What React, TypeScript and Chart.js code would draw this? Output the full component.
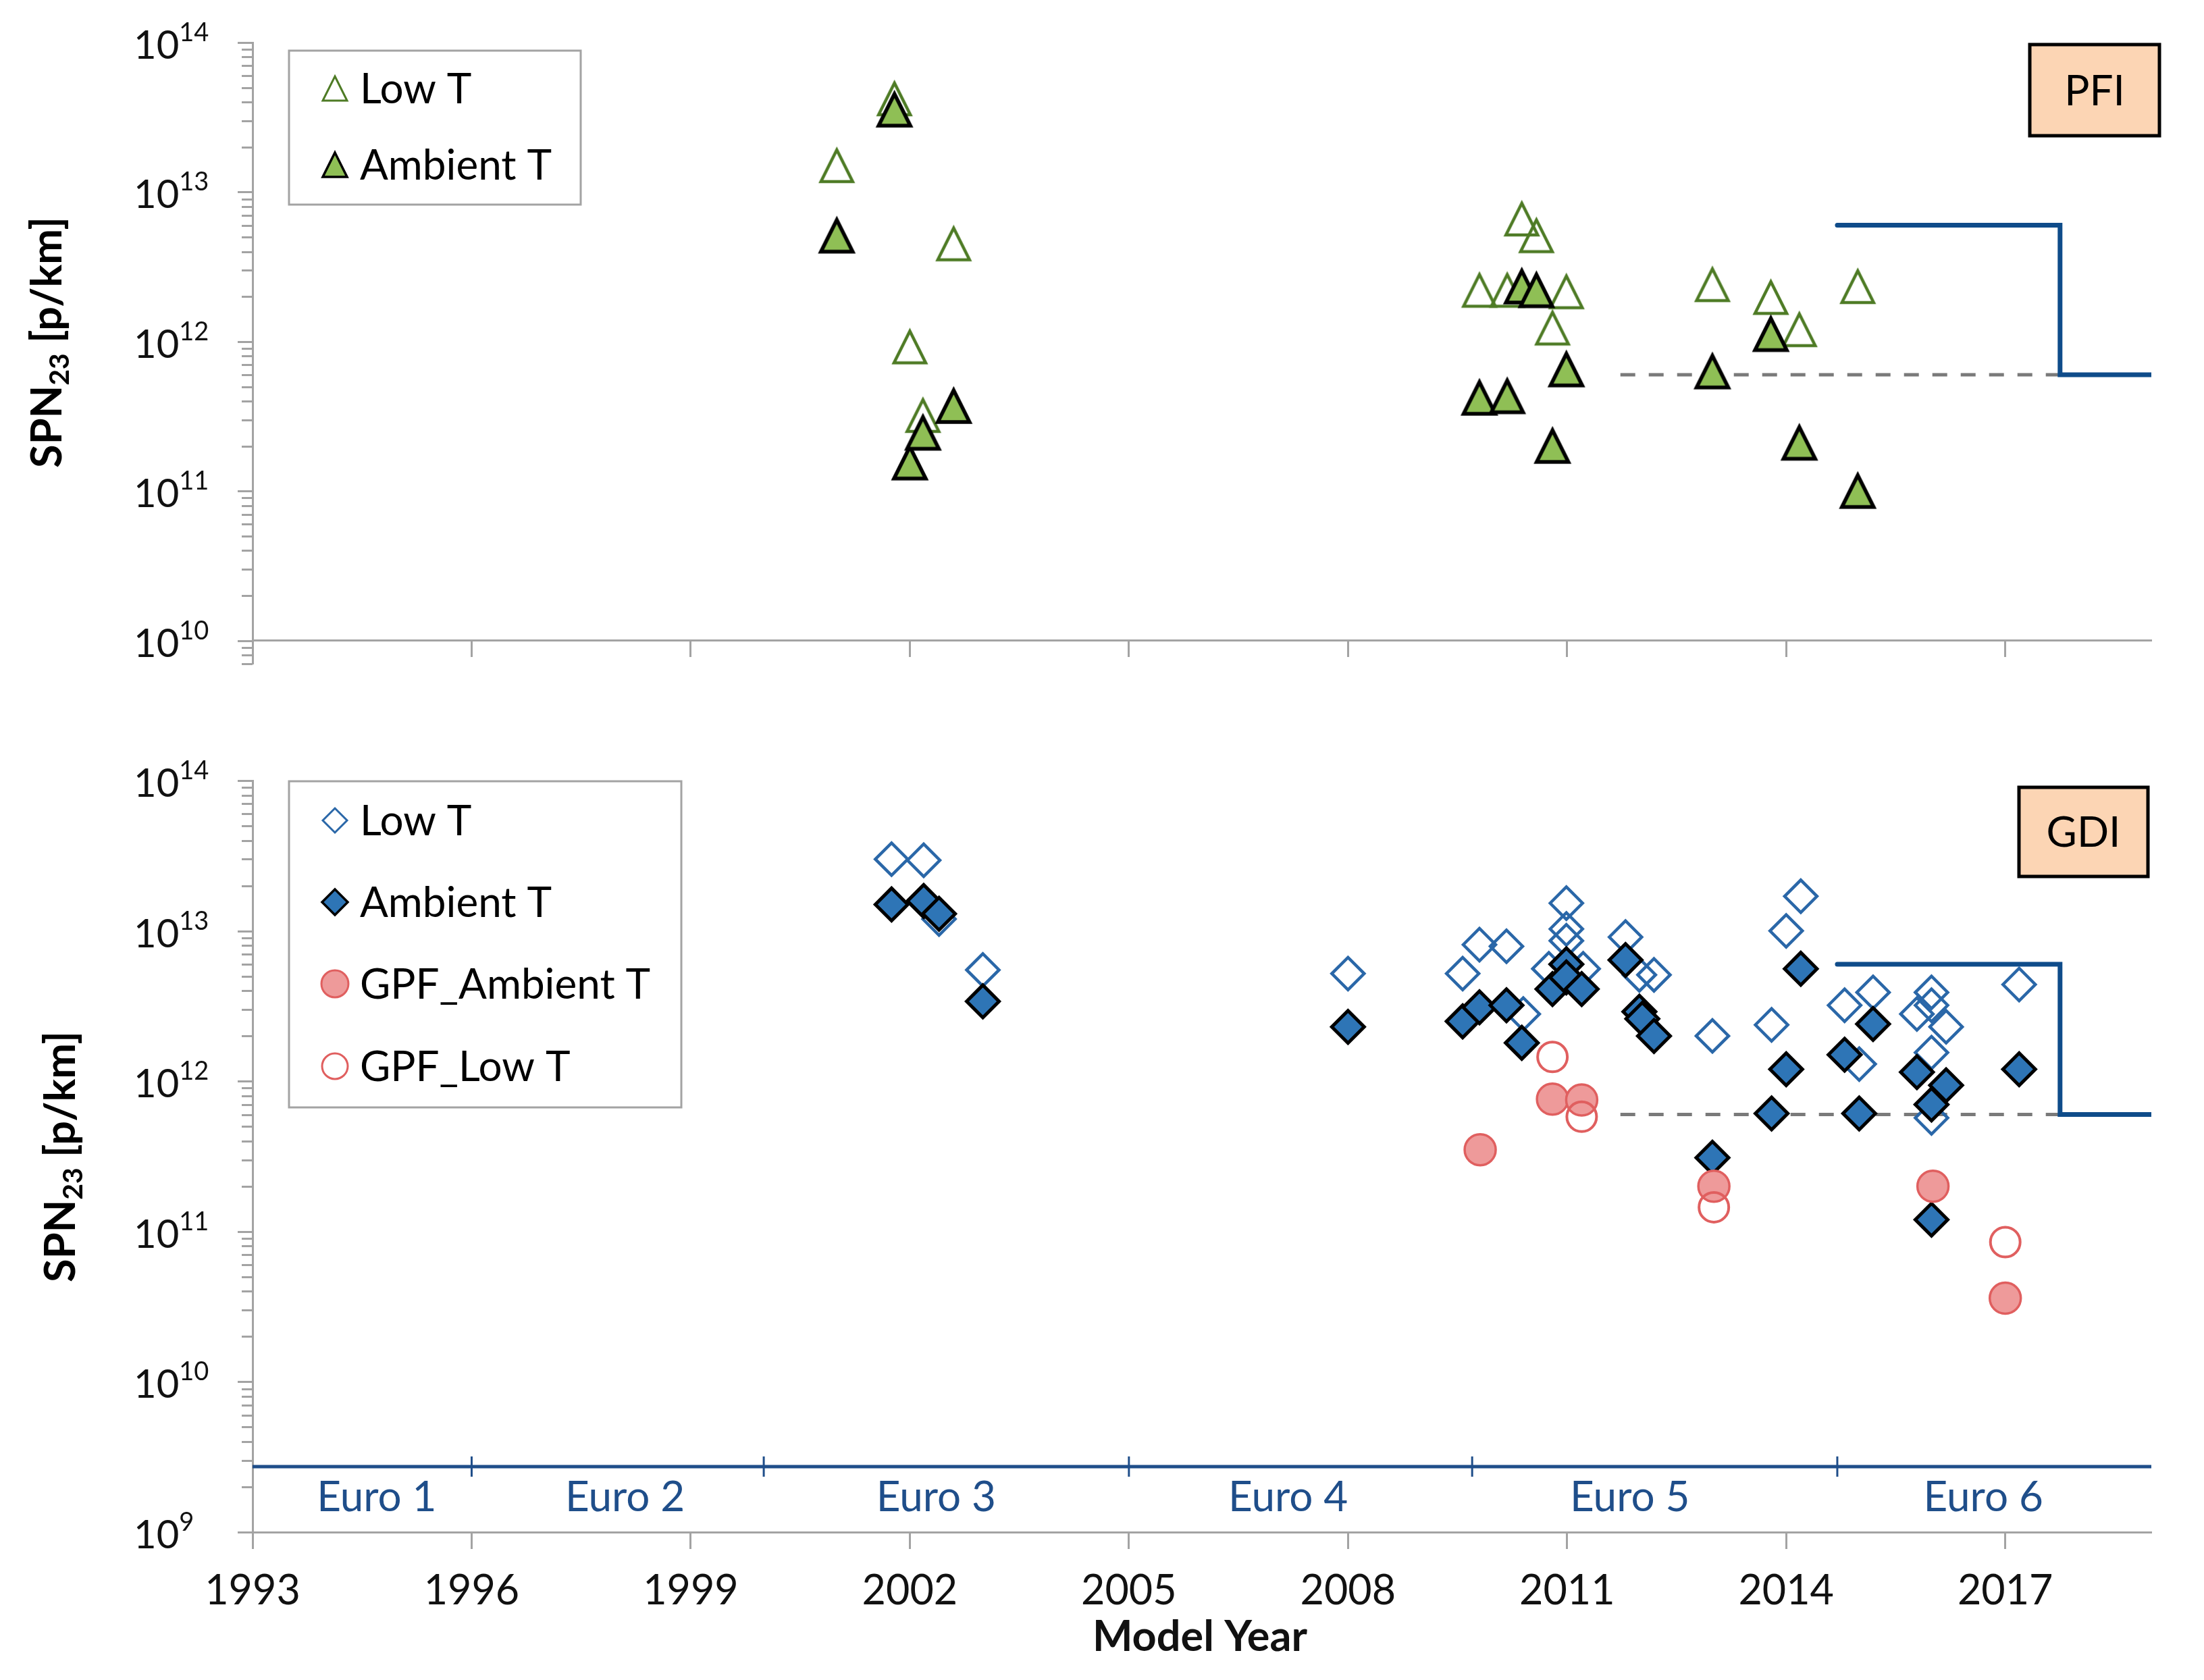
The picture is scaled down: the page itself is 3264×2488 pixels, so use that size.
import React, { useEffect, useRef } from 'react';
import { Chart, registerables } from 'chart.js';

Chart.register(...registerables);

type Pt = [number, number];

// ---------------- Data ----------------
const xMin = 1993;
const xMax = 2019;
const xTickYears = [1993, 1996, 1999, 2002, 2005, 2008, 2011, 2014, 2017];
const topYExponents = [10, 11, 12, 13, 14];
const bottomYExponents = [9, 10, 11, 12, 13, 14];
const topYMin = 7e9;
const bottomYMin = 1e9;
const yMax = 1e14;

// PFI panel
const pfiLowT: Pt[] = [
  [2001.0, 1.5e13], [2001.79, 4.2e13], [2002.0, 9.2e11], [2002.18, 3.2e11], [2002.6, 4.5e12],
  [2009.8, 2.2e12], [2010.18, 2.2e12], [2010.38, 6.6e12], [2010.58, 5.1e12], [2010.8, 1.23e12],
  [2010.99, 2.15e12], [2012.99, 2.4e12], [2013.79, 1.97e12], [2014.18, 1.2e12], [2014.98, 2.33e12],
];
const pfiAmbientT: Pt[] = [
  [2001.0, 5.1e12], [2001.79, 3.55e13], [2002.0, 1.55e11], [2002.18, 2.45e11], [2002.6, 3.7e11],
  [2009.8, 4.2e11], [2010.18, 4.3e11], [2010.38, 2.33e12], [2010.58, 2.2e12], [2010.8, 2.0e11],
  [2010.99, 6.5e11], [2012.99, 6.3e11], [2013.79, 1.12e12], [2014.18, 2.1e11], [2014.98, 1.0e11],
];

// GDI panel
const gdiLowT: Pt[] = [
  [2001.75, 3.0e13], [2002.19, 2.95e13], [2002.4, 1.2e13], [2003.0, 5.5e12],
  [2008.0, 5.2e12], [2009.57, 5.2e12], [2009.8, 8.1e12], [2010.17, 7.9e12], [2010.4, 2.8e12],
  [2010.75, 5.6e12], [2010.99, 1.53e13], [2010.99, 1.03e13], [2010.99, 8.6e12], [2011.22, 5.6e12],
  [2011.8, 9.1e12], [2011.99, 5.1e12], [2012.19, 5.1e12], [2012.99, 2.0e12], [2013.8, 2.37e12],
  [2014.0, 1.0e13], [2014.2, 1.7e13], [2014.8, 3.2e12], [2015.0, 1.3e12], [2015.19, 3.9e12],
  [2015.79, 2.8e12], [2015.99, 3.9e12], [2015.99, 3.2e12], [2015.99, 1.55e12], [2015.99, 5.7e11],
  [2016.19, 2.3e12], [2017.19, 4.4e12],
];
const gdiAmbientT: Pt[] = [
  [2001.75, 1.5e13], [2002.19, 1.58e13], [2002.4, 1.3e13], [2003.0, 3.4e12],
  [2008.0, 2.3e12], [2009.57, 2.5e12], [2009.8, 3.1e12], [2010.17, 3.2e12], [2010.38, 1.8e12],
  [2010.8, 4.1e12], [2010.99, 6.0e12], [2010.99, 4.9e12], [2011.2, 4.1e12], [2011.8, 6.4e12],
  [2011.99, 2.9e12], [2012.03, 2.6e12], [2012.19, 2.0e12], [2012.99, 3.1e11], [2013.8, 6.1e11],
  [2014.0, 1.2e12], [2014.2, 5.6e12], [2014.8, 1.5e12], [2015.0, 6.1e11], [2015.19, 2.4e12],
  [2015.79, 1.15e12], [2015.99, 7.0e11], [2015.99, 1.2e11], [2016.19, 9.4e11], [2017.19, 1.2e12],
];
const gpfAmbientT: Pt[] = [
  [2009.81, 3.5e11], [2010.8, 7.6e11], [2011.2, 7.5e11], [2013.01, 2.0e11], [2016.01, 2.0e11], [2017.0, 3.6e10],
];
const gpfLowT: Pt[] = [
  [2010.8, 1.45e12], [2011.2, 5.8e11], [2013.01, 1.45e11], [2017.0, 8.5e10],
];

// Limits
const euro6Limit: Pt[] = [[2014.7, 6e12], [2017.75, 6e12], [2017.75, 6e11], [2019, 6e11]];
const euro6FinalLimit: Pt[] = [[2011.73, 6e11], [2017.75, 6e11]];

// Euro stages timeline
const euroStageNames = ['Euro 1', 'Euro 2', 'Euro 3', 'Euro 4', 'Euro 5', 'Euro 6'];
const euroStageStarts = [1993, 1996, 2000, 2005, 2009.7, 2014.7];
const euroLabelYears = [1994.7, 1998.1, 2002.36, 2007.18, 2011.86, 2016.7];
const euroTimelineLevel = 2.73e9;

// ---------------- Styles ----------------
const FONT = 'Lato, "Open Sans", "DejaVu Sans", sans-serif';
const AXIS_GRAY = '#A3A3A3';
const GREEN_DARK = '#4E7B25';
const GREEN_FILL = '#8FBF55';
const BLUE_FILL = '#2E75B6';
const BLUE_OPEN = '#2A67A8';
const PINK_FILL = '#EE9A9A';
const PINK_LINE = '#E05F5F';
const LIMIT_BLUE = '#0F4C8A';
const EURO_BLUE = '#1F4E8A';

const TOP_H = 1060;
const BOT_H = 1428;
const W = 3264;

function makeTriangle(size: number, stroke: string, fill: string | null, lw: number): HTMLCanvasElement {
  const pad = 9;
  const c = document.createElement('canvas');
  c.width = size + pad * 2;
  c.height = size + pad * 2;
  const ctx = c.getContext('2d')!;
  ctx.beginPath();
  ctx.moveTo(pad + size / 2, pad);
  ctx.lineTo(pad + size, pad + size);
  ctx.lineTo(pad, pad + size);
  ctx.closePath();
  if (fill) {
    ctx.fillStyle = fill;
    ctx.fill();
  }
  ctx.lineJoin = 'miter';
  ctx.lineWidth = lw;
  ctx.strokeStyle = stroke;
  ctx.stroke();
  return c;
}

function toXY(arr: Pt[]) {
  return arr.map(([x, y]) => ({ x, y }));
}

function drawYAxisDecor(chart: any, exps: number[]) {
  const ctx = chart.ctx as CanvasRenderingContext2D;
  const ys = chart.scales.y;
  const axisX = chart.chartArea.left;
  ctx.save();
  ctx.strokeStyle = AXIS_GRAY;
  ctx.lineWidth = 3;
  for (let k = exps[0] - 1; k <= exps[exps.length - 1]; k++) {
    for (let m = 1; m <= 9; m++) {
      const v = m * Math.pow(10, k);
      if (v < ys.min * 0.999 || v > ys.max * 1.001) continue;
      const py = Math.round(ys.getPixelForValue(v)) + 0.5;
      const len = m === 1 ? 22 : 16;
      ctx.beginPath();
      ctx.moveTo(axisX - len, py);
      ctx.lineTo(axisX, py);
      ctx.stroke();
    }
  }
  ctx.fillStyle = '#111';
  ctx.textAlign = 'left';
  ctx.textBaseline = 'alphabetic';
  for (const e of exps) {
    const py = ys.getPixelForValue(Math.pow(10, e));
    ctx.font = `58px ${FONT}`;
    ctx.fillText('10', 198, py + 24);
    const w = ctx.measureText('10').width;
    ctx.font = `38px ${FONT}`;
    ctx.fillText(String(e), 198 + w, py - 2);
  }
  ctx.restore();
}

function drawYTitle(ctx: CanvasRenderingContext2D, bx: number, cy: number) {
  ctx.save();
  ctx.translate(bx, cy);
  ctx.rotate(-Math.PI / 2);
  const big = `bold 63px ${FONT}`;
  const small = `bold 41px ${FONT}`;
  ctx.font = big;
  const w1 = ctx.measureText('SPN').width;
  const w3 = ctx.measureText(' [p/km]').width;
  ctx.font = small;
  const w2 = ctx.measureText('23').width;
  let x = -(w1 + w2 + w3) / 2;
  ctx.fillStyle = '#000';
  ctx.textBaseline = 'alphabetic';
  ctx.textAlign = 'left';
  ctx.font = big;
  ctx.fillText('SPN', x, 0);
  x += w1;
  ctx.font = small;
  ctx.fillText('23', x, 11);
  x += w2;
  ctx.font = big;
  ctx.fillText(' [p/km]', x, 0);
  ctx.restore();
}

function drawTagBox(ctx: CanvasRenderingContext2D, x: number, y: number, w: number, h: number, text: string) {
  ctx.save();
  ctx.fillStyle = '#FCD5B4';
  ctx.fillRect(x, y, w, h);
  ctx.lineWidth = 5;
  ctx.strokeStyle = '#000';
  ctx.strokeRect(x, y, w, h);
  ctx.fillStyle = '#000';
  ctx.font = `62px ${FONT}`;
  ctx.textAlign = 'center';
  ctx.textBaseline = 'alphabetic';
  ctx.fillText(text, x + w / 2, y + h / 2 + 22);
  ctx.restore();
}

type LegendEntry = { label: string; draw: (ctx: CanvasRenderingContext2D, x: number, y: number) => void; y: number };

function drawLegend(ctx: CanvasRenderingContext2D, box: [number, number, number, number], entries: LegendEntry[]) {
  ctx.save();
  ctx.lineWidth = 3;
  ctx.strokeStyle = AXIS_GRAY;
  ctx.strokeRect(box[0], box[1], box[2], box[3]);
  for (const e of entries) {
    e.draw(ctx, 496, e.y);
    ctx.fillStyle = '#000';
    ctx.font = `62px ${FONT}`;
    ctx.textAlign = 'left';
    ctx.textBaseline = 'alphabetic';
    ctx.fillText(e.label, 533, e.y + 22);
  }
  ctx.restore();
}

function diamondPath(ctx: CanvasRenderingContext2D, x: number, y: number, r: number) {
  ctx.beginPath();
  ctx.moveTo(x - r, y);
  ctx.lineTo(x, y - r);
  ctx.lineTo(x + r, y);
  ctx.lineTo(x, y + r);
  ctx.closePath();
}

export default function App() {
  const topRef = useRef<HTMLCanvasElement>(null);
  const botRef = useRef<HTMLCanvasElement>(null);

  useEffect(() => {
    const triOpen = makeTriangle(47, GREEN_DARK, null, 4.5);
    const triFilled = makeTriangle(47, '#000', GREEN_FILL, 5.5);
    const triOpenSmall = makeTriangle(36, GREEN_DARK, null, 3);
    const triFilledSmall = makeTriangle(36, '#000', GREEN_FILL, 3.5);

    const xTicksHook = (s: any) => {
      s.ticks = xTickYears.map((v) => ({ value: v }));
    };

    const commonX = (posY: number) => ({
      type: 'linear',
      min: xMin,
      max: xMax,
      position: { y: posY },
      afterBuildTicks: xTicksHook,
      grid: { display: true, drawOnChartArea: false, drawTicks: true, tickLength: 23, tickWidth: 3, tickColor: AXIS_GRAY },
      border: { display: true, color: AXIS_GRAY, width: 3 },
      ticks: { display: false },
    });
    const commonY = (min: number) => ({
      type: 'logarithmic',
      min,
      max: yMax,
      position: 'left',
      afterFit: (s: any) => {
        s.width = 374;
      },
      grid: { display: false },
      border: { display: true, color: AXIS_GRAY, width: 3 },
      ticks: { display: false },
    });

    const topDecor = {
      id: 'topDecor',
      afterDraw(chart: any) {
        const ctx = chart.ctx as CanvasRenderingContext2D;
        drawYAxisDecor(chart, topYExponents);
        drawYTitle(ctx, 91, 507);
        drawTagBox(ctx, 3006, 66, 192, 135, 'PFI');
        drawLegend(ctx, [428, 75, 432, 228], [
          { label: 'Low T', y: 131, draw: (c, x, y) => c.drawImage(triOpenSmall, x - triOpenSmall.width / 2, y - triOpenSmall.height / 2) },
          { label: 'Ambient T', y: 244, draw: (c, x, y) => c.drawImage(triFilledSmall, x - triFilledSmall.width / 2, y - triFilledSmall.height / 2) },
        ]);
      },
    };

    const botDecor = {
      id: 'botDecor',
      afterDraw(chart: any) {
        const ctx = chart.ctx as CanvasRenderingContext2D;
        const xs = chart.scales.x;
        drawYAxisDecor(chart, bottomYExponents);
        drawYTitle(ctx, 111, 653);
        drawTagBox(ctx, 2990, 106, 191, 132, 'GDI');
        // x tick labels
        ctx.save();
        ctx.fillStyle = '#111';
        ctx.font = `61px ${FONT}`;
        ctx.textAlign = 'center';
        ctx.textBaseline = 'alphabetic';
        for (const yr of xTickYears) {
          ctx.fillText(String(yr), xs.getPixelForValue(yr), 1316);
        }
        ctx.font = `bold 63px ${FONT}`;
        ctx.fillText('Model Year', 1777, 1385);
        // euro labels
        ctx.fillStyle = EURO_BLUE;
        ctx.font = `62px ${FONT}`;
        euroStageNames.forEach((n, i) => {
          ctx.fillText(n, xs.getPixelForValue(euroLabelYears[i]), 1178);
        });
        ctx.restore();
        drawLegend(ctx, [428, 97, 581, 483], [
          {
            label: 'Low T', y: 155, draw: (c, x, y) => {
              diamondPath(c, x, y, 18); c.lineWidth = 3; c.strokeStyle = BLUE_OPEN; c.stroke();
            },
          },
          {
            label: 'Ambient T', y: 276, draw: (c, x, y) => {
              diamondPath(c, x, y, 19); c.fillStyle = BLUE_FILL; c.fill(); c.lineWidth = 3.5; c.strokeStyle = '#000'; c.stroke();
            },
          },
          {
            label: 'GPF_Ambient T', y: 397, draw: (c, x, y) => {
              c.beginPath(); c.arc(x, y, 20, 0, Math.PI * 2); c.fillStyle = PINK_FILL; c.fill(); c.lineWidth = 3; c.strokeStyle = PINK_LINE; c.stroke();
            },
          },
          {
            label: 'GPF_Low T', y: 519, draw: (c, x, y) => {
              c.beginPath(); c.arc(x, y, 19, 0, Math.PI * 2); c.lineWidth = 3; c.strokeStyle = PINK_LINE; c.stroke();
            },
          },
        ]);
      },
    };

    const limitDatasets = (orderBase: number) => [
      {
        label: 'Euro 6 limit',
        data: toXY(euro6Limit),
        showLine: true,
        borderColor: LIMIT_BLUE,
        borderWidth: 7,
        borderCapStyle: 'round',
        pointRadius: 0,
        fill: false,
        order: orderBase,
      },
      {
        label: 'Euro 6 final limit',
        data: toXY(euro6FinalLimit),
        showLine: true,
        borderColor: '#7A7A7A',
        borderWidth: 5,
        borderDash: [22, 20],
        pointRadius: 0,
        fill: false,
        order: orderBase + 1,
      },
    ];

    const topChart = new Chart(topRef.current!, {
      type: 'scatter',
      data: {
        datasets: [
          { label: 'Ambient T', data: toXY(pfiAmbientT), pointStyle: triFilled as any, pointRadius: 24, order: 1 },
          { label: 'Low T', data: toXY(pfiLowT), pointStyle: triOpen as any, pointRadius: 24, order: 2 },
          ...(limitDatasets(3) as any[]),
        ],
      },
      options: {
        responsive: false,
        animation: false,
        events: [],
        layout: { padding: { left: 0, right: 78, top: 63, bottom: TOP_H - 983 }, autoPadding: false },
        scales: { x: commonX(1e10) as any, y: commonY(topYMin) as any },
        plugins: { legend: { display: false }, tooltip: { enabled: false } },
      },
      plugins: [topDecor],
    });

    const euroPts = [...euroStageStarts, xMax].map((x) => ({ x, y: euroTimelineLevel }));
    const euroRadii = euroPts.map((p) => (p.x === xMin || p.x === xMax ? 0 : 15));

    const botChart = new Chart(botRef.current!, {
      type: 'scatter',
      data: {
        datasets: [
          {
            label: 'GPF_Low T', data: toXY(gpfLowT), pointStyle: 'circle', pointRadius: 22,
            backgroundColor: 'rgba(0,0,0,0)', borderColor: PINK_LINE, borderWidth: 4, order: 1,
          },
          {
            label: 'GPF_Ambient T', data: toXY(gpfAmbientT), pointStyle: 'circle', pointRadius: 23,
            backgroundColor: PINK_FILL, borderColor: PINK_LINE, borderWidth: 3.5, order: 2,
          },
          {
            label: 'Ambient T', data: toXY(gdiAmbientT), pointStyle: 'rectRot', pointRadius: 24,
            backgroundColor: BLUE_FILL, borderColor: '#000', borderWidth: 5, order: 3,
          },
          {
            label: 'Low T', data: toXY(gdiLowT), pointStyle: 'rectRot', pointRadius: 24,
            backgroundColor: 'rgba(0,0,0,0)', borderColor: BLUE_OPEN, borderWidth: 4.5, order: 4,
          },
          ...(limitDatasets(5) as any[]),
          {
            label: 'Euro stages',
            data: euroPts,
            showLine: true,
            borderColor: EURO_BLUE,
            borderWidth: 5,
            pointStyle: 'line',
            rotation: 90,
            pointRadius: euroRadii,
            pointBorderWidth: 3,
            pointBorderColor: EURO_BLUE,
            fill: false,
            order: 7,
          } as any,
        ],
      },
      options: {
        responsive: false,
        animation: false,
        events: [],
        layout: { padding: { left: 0, right: 78, top: 96, bottom: BOT_H - 1209 }, autoPadding: false },
        scales: { x: commonX(bottomYMin) as any, y: commonY(bottomYMin) as any },
        plugins: { legend: { display: false }, tooltip: { enabled: false } },
      },
      plugins: [botDecor],
    });

    let alive = true;
    if ((document as any).fonts && (document as any).fonts.ready) {
      (document as any).fonts.ready.then(() => {
        if (alive) {
          topChart.update();
          botChart.update();
        }
      });
    }

    return () => {
      alive = false;
      topChart.destroy();
      botChart.destroy();
    };
  }, []);

  return (
    <div style={{ position: 'absolute', left: 0, top: 0, width: W, height: TOP_H + BOT_H, background: '#fff', overflow: 'hidden' }}>
      <canvas
        ref={topRef}
        width={W}
        height={TOP_H}
        style={{ position: 'absolute', left: 0, top: 0, width: W, height: TOP_H }}
      />
      <canvas
        ref={botRef}
        width={W}
        height={BOT_H}
        style={{ position: 'absolute', left: 0, top: TOP_H, width: W, height: BOT_H }}
      />
    </div>
  );
}
